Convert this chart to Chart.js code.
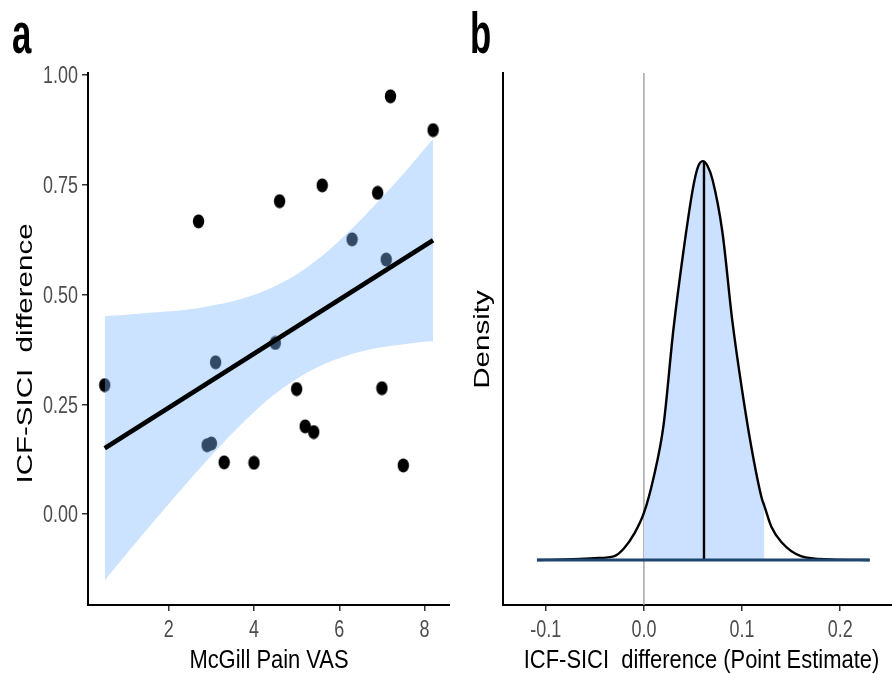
<!DOCTYPE html>
<html>
<head>
<meta charset="utf-8">
<script src="https://cdn.jsdelivr.net/npm/chart.js@4.4.1/dist/chart.umd.min.js"></script>
<style>
  body { margin: 0; background: #fff; }
  #wrap { position: relative; width: 892px; height: 674px; overflow: hidden; }
  .panel { position: absolute; top: 0; height: 674px; }
  .tag { position: absolute; font: bold 58px 'Liberation Sans', Arial, sans-serif; line-height: 1; transform: scaleX(0.6); transform-origin: 0 0; }
</style>
</head>
<body>
<div id="wrap">
  <div class="panel" style="left:0;width:450px"><canvas id="chartA"></canvas></div>
  <div class="panel" style="left:452px;width:440px"><canvas id="chartB"></canvas></div>
  <div class="tag" style="left:12px;top:4px">a</div>
  <div class="tag" style="left:470px;top:4px">b</div>
</div>
<script>
// ---- panel a: scatter + linear fit ----
const painVAS = [0.5, 2.7, 3.1, 2.9, 3.0, 3.3, 4.0, 4.5, 4.6, 5.0, 5.2, 5.4, 5.6, 6.3, 6.9, 7.0, 7.1, 7.2, 7.5, 8.2];
const icfDiff = [0.294, 0.667, 0.346, 0.157, 0.161, 0.118, 0.117, 0.390, 0.713, 0.285, 0.200, 0.187, 0.749, 0.626, 0.732, 0.287, 0.580, 0.952, 0.111, 0.875];
const fitX = [0.5, 8.2];
const fitY = [0.150, 0.624];
const bandX = [0.5, 1, 1.5, 2, 2.5, 3, 3.5, 4, 4.5, 5, 5.5, 6, 6.5, 7, 7.5, 8, 8.2];
const bandUpper = [0.451, 0.454, 0.458, 0.462, 0.467, 0.475, 0.485, 0.500, 0.520, 0.546, 0.581, 0.623, 0.670, 0.722, 0.775, 0.832, 0.854];
const bandLower = [-0.151, -0.092, -0.034, 0.023, 0.079, 0.133, 0.185, 0.232, 0.274, 0.308, 0.335, 0.355, 0.370, 0.380, 0.387, 0.393, 0.394];
const xTicksA = [2, 4, 6, 8];
const yTicksA = [0, 0.25, 0.5, 0.75, 1];

// ---- panel b: density of point estimate ----
const diffX = [-0.109, -0.08, -0.05, -0.03, -0.02, -0.01, 0, 0.01, 0.02, 0.03, 0.04, 0.05, 0.055, 0.06, 0.065, 0.07, 0.08, 0.09, 0.1, 0.11, 0.12, 0.1228, 0.13, 0.14, 0.16, 0.19, 0.23];
const density = [0, 0.02, 0.06, 0.13, 0.40, 0.87, 1.57, 2.77, 4.5, 7.67, 10.23, 12.4, 13.1, 13.3, 13.13, 12.67, 10.93, 8.0, 5.67, 3.67, 2.07, 1.8, 1.1, 0.6, 0.13, 0.02, 0];
const xTicksB = [-0.1, 0, 0.1, 0.2];
const pointEstimate = 0.0612;
const peakDensity = 13.3;
const shadeLo = 0, shadeHi = 0.1228;

const sans = "'Liberation Sans', Arial, sans-serif";

// the reference text is horizontally squeezed, so draw it through a scaled context
function squashed(ctx, text, x, y, o) {
  ctx.save();
  ctx.font = o.font;
  ctx.fillStyle = o.color;
  ctx.textAlign = o.align || 'center';
  ctx.textBaseline = 'alphabetic';
  ctx.translate(x, y);
  if (o.vertical) { ctx.rotate(-Math.PI / 2); ctx.scale(1, o.squeeze); }
  else ctx.scale(o.squeeze, 1);
  ctx.fillText(text, 0, 0);
  ctx.restore();
}

const tickStyle = { font: '23px ' + sans, color: '#4d4d4d', squeeze: 0.78 };
const titleStyle = { font: '25.5px ' + sans, color: '#000', squeeze: 0.86 };
const vTitleStyle = { font: '29.5px ' + sans, color: '#000', squeeze: 0.76, vertical: true };

const axisText = {
  id: 'axisText',
  afterDraw(chart, args, o) {
    const ctx = chart.ctx, xs = chart.scales.x, ys = chart.scales.y;
    o.xTicks.forEach(v => squashed(ctx, o.xFmt(v), xs.getPixelForValue(v), xs.top + 31.5, tickStyle));
    (o.yTicks || []).forEach(v => squashed(ctx, o.yFmt(v), xs.left - 10, ys.getPixelForValue(v) + 8.3,
      Object.assign({}, tickStyle, { align: 'right' })));
    const area = chart.chartArea;
    squashed(ctx, o.xTitle, (area.left + area.right) / 2 + o.xTitleShift, xs.top + 63, titleStyle);
    squashed(ctx, o.yTitle, area.left - o.yTitleGap, (area.top + area.bottom) / 2 + o.yTitleShift, vTitleStyle);
  }
};

// elliptical dot (reference points are taller than wide)
const dot = document.createElement('canvas');
dot.width = 13; dot.height = 15;
const dctx = dot.getContext('2d');
dctx.fillStyle = '#000';
dctx.beginPath();
dctx.ellipse(6.5, 7.5, 5.7, 7.1, 0, 0, Math.PI * 2);
dctx.fill();

const pts = (xs, ys) => xs.map((x, i) => ({ x: x, y: ys[i] }));
const tickMarks = { drawOnChartArea: false, tickLength: 6, color: '#333', lineWidth: 1.5 };

new Chart(document.getElementById('chartA'), {
  type: 'scatter',
  data: {
    datasets: [
      { data: pts(fitX, fitY), showLine: true, borderColor: '#000', borderWidth: 4.6, pointRadius: 0 },
      { data: pts(bandX, bandUpper), showLine: true, borderColor: 'transparent', borderWidth: 0, pointRadius: 0,
        tension: 0.4, fill: '+1', backgroundColor: 'rgba(128,184,255,0.4)' },
      { data: pts(bandX, bandLower), showLine: true, borderColor: 'transparent', borderWidth: 0, pointRadius: 0, tension: 0.4 },
      { data: pts(painVAS, icfDiff), pointStyle: dot, pointRadius: 6, backgroundColor: '#000', borderColor: '#000' }
    ]
  },
  plugins: [axisText],
  options: {
    responsive: true,
    maintainAspectRatio: false,
    animation: false,
    layout: { autoPadding: false, padding: { top: 73, right: 0, left: 0, bottom: 0 } },
    plugins: {
      legend: { display: false }, tooltip: { enabled: false },
      axisText: {
        xTicks: xTicksA, xFmt: v => String(v), yTicks: yTicksA, yFmt: v => v.toFixed(2),
        xTitle: 'McGill Pain VAS', xTitleShift: 0,
        yTitle: 'ICF-SICI  difference', yTitleGap: 55.7, yTitleShift: 14.5
      }
    },
    scales: {
      x: {
        type: 'linear', min: 0.108, max: 8.596,
        afterBuildTicks: s => { s.ticks = xTicksA.map(v => ({ value: v })); },
        afterFit: s => { s.height = 69; },
        grid: tickMarks,
        border: { color: '#000', width: 2 },
        ticks: { display: false }
      },
      y: {
        type: 'linear', min: -0.207, max: 1.005,
        afterBuildTicks: s => { s.ticks = yTicksA.map(v => ({ value: v })); },
        afterFit: s => { s.width = 88; },
        grid: tickMarks,
        border: { color: '#000', width: 2 },
        ticks: { display: false }
      }
    }
  }
});

const yMinB = -1.5, yMaxB = 16.24;

new Chart(document.getElementById('chartB'), {
  type: 'scatter',
  data: {
    datasets: [
      { data: [{ x: diffX[0], y: 0 }, { x: diffX[diffX.length - 1], y: 0 }], showLine: true,
        borderColor: '#1c4670', borderWidth: 2.8, pointRadius: 0 },
      { data: [{ x: pointEstimate, y: 0 }, { x: pointEstimate, y: peakDensity }], showLine: true,
        borderColor: '#000', borderWidth: 2.4, pointRadius: 0 },
      { data: pts(diffX, density), showLine: true, borderColor: '#000', borderWidth: 2.4, pointRadius: 0,
        cubicInterpolationMode: 'monotone' },
      { data: pts(diffX, density).filter(p => p.x >= shadeLo && p.x <= shadeHi), showLine: true,
        borderColor: 'transparent', borderWidth: 0, pointRadius: 0, cubicInterpolationMode: 'monotone',
        fill: 'origin', backgroundColor: '#cce0ff' },
      { data: [{ x: 0, y: yMinB }, { x: 0, y: yMaxB }], showLine: true, borderColor: '#a6a6a6', borderWidth: 1.5, pointRadius: 0 }
    ]
  },
  plugins: [axisText],
  options: {
    responsive: true,
    maintainAspectRatio: false,
    animation: false,
    layout: { autoPadding: false, padding: { top: 73, right: 0, left: 0, bottom: 0 } },
    plugins: {
      legend: { display: false }, tooltip: { enabled: false },
      axisText: {
        xTicks: xTicksB, xFmt: v => v.toFixed(1),
        xTitle: 'ICF-SICI  difference (Point Estimate)', xTitleShift: 4,
        yTitle: 'Density', yTitleGap: 14.5, yTitleShift: 0.5
      }
    },
    scales: {
      x: {
        type: 'linear', min: -0.1436, max: 0.2528,
        afterBuildTicks: s => { s.ticks = xTicksB.map(v => ({ value: v })); },
        afterFit: s => { s.height = 69; },
        grid: tickMarks,
        border: { color: '#000', width: 2 },
        ticks: { display: false }
      },
      y: {
        type: 'linear', min: yMinB, max: yMaxB,
        afterFit: s => { s.width = 51; },
        grid: { display: false },
        border: { color: '#000', width: 2 },
        ticks: { display: false }
      }
    }
  }
});
</script>
</body>
</html>
